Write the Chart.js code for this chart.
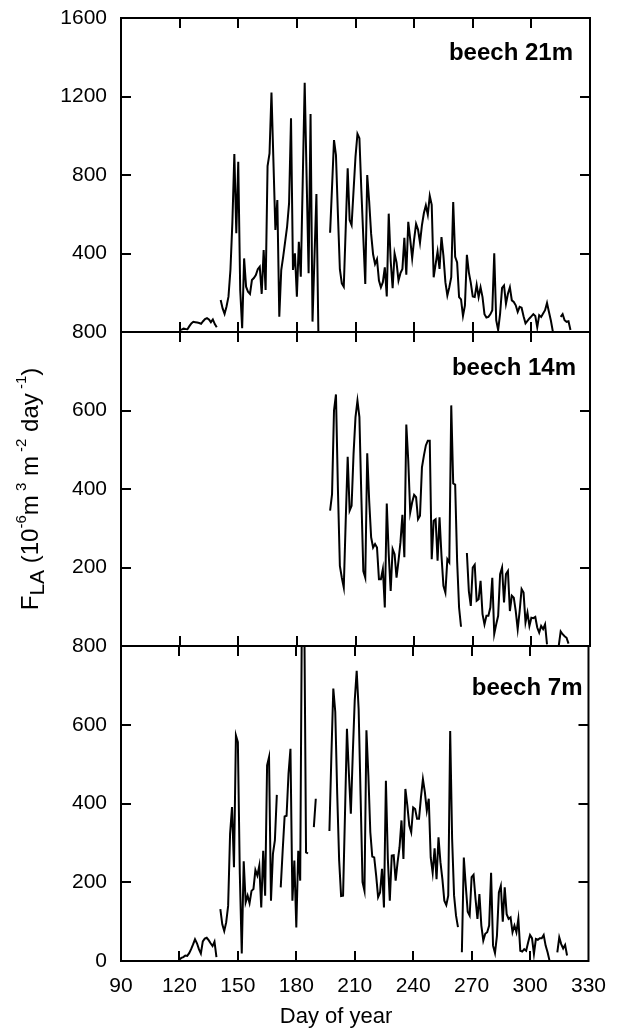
<!DOCTYPE html>
<html>
<head>
<meta charset="utf-8">
<script src="https://cdn.jsdelivr.net/npm/chart.js@4.4.1/dist/chart.umd.min.js"></script>
<style>
  body { margin: 0; background: #fff; }
  #wrap { position: relative; width: 619px; height: 1036px; }
  canvas { position: absolute; left: 0; }
</style>
</head>
<body>
<div id="wrap">
  <canvas id="p1" width="619" height="350" style="top:0px"></canvas>
  <canvas id="p2" width="619" height="350" style="top:314px"></canvas>
  <canvas id="p3" width="619" height="408" style="top:628px"></canvas>
</div>
<script>
// Daily sap flux values, one array per sensor height (null = missing day)
const start21 = 120;
const beech21 = [
  10, 12, 17, 15, 14, 30, 44, 52, 50, 48,
  46, 42, 55, 66, 71, 64, 50, 64, 40, 24,
  null, 163, 120, 92, 130, 180, 316, 560, 907, 503,
  868, 214, 19, 375, 231, 205, 194, 265, 275, 290,
  320, 333, 194, 418, 214, 846, 910, 1220, 870, 520,
  672, 78, 316, 384, 460, 537, 655, 1089, 316, 401,
  180, 460, 282, 770, 1270, 780, 299, 1111, 53, 380,
  703, 0, null, null, null, null, null, 506, 740, 978,
  902, 600, 320, 248, 231, 530, 834, 571, 545, 720,
  893, 1009, 987, 720, 480, 245, 800, 665, 500, 396,
  346, 371, 262, 228, 254, 329, 181, 603, 363, 223,
  400, 354, 262, 300, 321, 480, 292, 561, 472, 376,
  472, 551, 522, 455, 544, 606, 645, 598, 694, 648,
  279, 346, 410, 321, 484, 388, 254, 186, 228, 279,
  662, 383, 354, 178, 166, 82, 136, 393, 304, 250,
  181, 178, 240, 178, 228, 178, 91, 74, 77, 90,
  111, 401, 60, 10, 94, 225, 237, 144, 195, 228,
  161, 153, 136, 102, 128, 124, 80, 44, 57, 69,
  80, 91, 82, 24, 86, 77, 94, 111, 148, 102,
  57, 2, null, null, null, 77, 91, 60, 52, 55,
  10
];

const start14 = 197;
const beech14 = [
  345, 387, 600,
  641, 400, 204, 174, 149, 320, 482, 345, 357, 489,
  583, 625, 583, 379, 191, 174, 491, 370, 277, 251,
  260, 251, 170, 170, 196, 98, 363, 234, 140, 247,
  234, 174, 217, 264, 334, 226, 564, 472, 340, 366,
  385, 379, 323, 332, 455, 485, 511, 523, 523, 221,
  319, 323, 217, 328, 230, 153, 136, 221, 213, 613,
  414, 411, 217, 98, 49, null, null, 237, 140, 102,
  200, 207, 115, 119, 166, 81, 55, 77, 77, 98,
  174, 31, 55, 77, 183, 200, 111, 183, 191, 89,
  128, 123, 89, 43, 89, 145, 136, 60, 85, 51,
  72, 71, 74, 47, 34, 51, 43, 55, 4, null,
  null, null, null, null, 0, 37, 30, 25, 21, 6
];

const start7 = 120;
const beech7 = [
  4, 8, 10, 14, 13, 20, 30, 42, 55, 45,
  30, 19, 50, 57, 59, 53, 45, 38, 49, 10,
  null, 132, 93, 76, 98, 140, 323, 391, 238, 573,
  556, 221, 19, 253, 149, 166, 147, 178, 183, 231,
  217, 242, 136, 280, 166, 497, 518, 153, 272, 306,
  422, null, 187, 280, 367, 369, 476, 539, 153, 255,
  85, 280, 204, 1000, 950, 276, 273, null, null, 340,
  412, null, null, null, null, null, null, 330, 520, 692,
  633, 425, 255, 165, 166, 374, 590, 476, 374, 527,
  662, 737, 640, 420, 200, 178, 586, 471, 327, 265,
  263, 217, 162, 174, 234, 136, 458, 259, 153, 268,
  269, 204, 251, 289, 357, 259, 437, 395, 344, 327,
  390, 386, 361, 361, 416, 462, 429, 382, 412, 263,
  224, 286, 208, 314, 251, 208, 153, 142, 166, 584,
  310, 166, 115, 86, null, 22, 263, 191, 125, 115,
  213, 219, 158, 107, 170, 90, 52, 69, 73, 90,
  224, 39, 20, 64, 174, 191, 100, 187, 119, 107,
  111, 73, 90, 73, 107, 26, 24, 30, 26, 47,
  66, 58, 18, 56, 54, 58, 58, 66, 39, 22,
  1, null, null, null, 22, 60, 43, 32, 41, 14
];

const xTicks = [90, 120, 150, 180, 210, 240, 270, 300, 330];
const yTicks21 = [0, 400, 800, 1200, 1600];
const yTicks14 = [0, 200, 400, 600, 800];
const yTicks7 = [0, 200, 400, 600, 800];

const FONT = "'Liberation Sans', Arial, Helvetica, sans-serif";

function toPoints(start, vals) {
  return vals.map((v, i) => ({ x: start + i, y: v }));
}

// box around each panel, inward ticks on all four sides, panel label
const framePlugin = {
  id: 'frame',
  afterDraw(chart, args, opts) {
    const { ctx, chartArea: a, scales: { x, y } } = chart;
    ctx.save();
    ctx.strokeStyle = '#000';
    ctx.lineWidth = 2;
    ctx.strokeRect(a.left, a.top, a.right - a.left, a.bottom - a.top);
    ctx.beginPath();
    xTicks.slice(1, -1).forEach(t => {
      const px = Math.round(x.getPixelForValue(t));
      ctx.moveTo(px, a.top); ctx.lineTo(px, a.top + 10);
      ctx.moveTo(px, a.bottom); ctx.lineTo(px, a.bottom - 10);
    });
    y.ticks.slice(1, -1).forEach(t => {
      const py = Math.round(y.getPixelForValue(t.value));
      ctx.moveTo(a.left, py); ctx.lineTo(a.left + 10, py);
      ctx.moveTo(a.right, py); ctx.lineTo(a.right - 10, py);
    });
    ctx.stroke();

    ctx.fillStyle = '#000';
    ctx.font = 'bold 24px ' + FONT;
    ctx.textAlign = 'right';
    ctx.textBaseline = 'middle';
    ctx.fillText(opts.label, a.right - opts.dx, a.top + opts.dy);

    if (opts.xTitle) {
      ctx.font = '22px ' + FONT;
      ctx.textAlign = 'center';
      ctx.fillText(opts.xTitle, opts.xTitleX, a.bottom + opts.xTitleDy);
    }
    ctx.restore();
  }
};

// rotated y axis title with sub/superscripts
const yTitlePlugin = {
  id: 'ytitle',
  afterDraw(chart, args, opts) {
    if (!opts.show) return;
    const ctx = chart.ctx;
    const parts = [
      ['F', 0], ['LA', 1], [' (10', 0], ['-6', 2], ['m', 0], [' 3', 2],
      [' m', 0], [' -2', 2], [' day', 0], [' -1', 2], [')', 0]
    ];
    const size = [24, 21, 15];
    const shift = [0, 6, -12];
    ctx.save();
    ctx.fillStyle = '#000';
    ctx.textBaseline = 'alphabetic';
    let total = 0;
    parts.forEach(([t, k]) => {
      ctx.font = size[k] + 'px ' + FONT;
      total += ctx.measureText(t).width;
    });
    ctx.translate(opts.x, opts.y);
    ctx.rotate(-Math.PI / 2);
    let pos = -total / 2;
    parts.forEach(([t, k]) => {
      ctx.font = size[k] + 'px ' + FONT;
      ctx.fillText(t, pos, shift[k]);
      pos += ctx.measureText(t).width;
    });
    ctx.restore();
  }
};

function makePanel(id, start, vals, yMax, yTicks, frameOpts, bottomAxis, yTitle) {
  const canvas = document.getElementById(id);
  const h = canvas.height;
  return new Chart(canvas, {
    type: 'line',
    data: {
      datasets: [{
        data: toPoints(start, vals),
        borderColor: '#000',
        borderWidth: 2,
        pointRadius: 0,
        tension: 0,
        spanGaps: false
      }]
    },
    options: {
      responsive: false,
      animation: false,
      events: [],
      layout: { padding: { top: 18, right: 29, left: 0, bottom: bottomAxis ? 0 : h - 332 } },
      plugins: {
        legend: { display: false },
        tooltip: { enabled: false },
        frame: frameOpts,
        ytitle: yTitle || { show: false }
      },
      scales: {
        x: {
          type: 'linear',
          min: 90,
          max: 330,
          display: bottomAxis,
          grid: { display: false, drawTicks: false },
          border: { display: false },
          afterBuildTicks: s => { s.ticks = xTicks.map(v => ({ value: v })); },
          afterFit: s => { s.height = bottomAxis ? h - 333 : 0; },
          ticks: { color: '#000', font: { family: FONT, size: 21 }, padding: 13, maxRotation: 0 }
        },
        y: {
          min: 0,
          max: yMax,
          grid: { display: false, drawTicks: false },
          border: { display: false },
          afterBuildTicks: s => { s.ticks = yTicks.map(v => ({ value: v })); },
          afterFit: s => { s.width = 121; s.paddingTop = 0; s.paddingBottom = 0; },
          ticks: {
            color: '#000',
            font: { family: FONT, size: 21 },
            padding: 14,
            callback: v => (!bottomAxis && v === 0) ? '' : v
          }
        }
      }
    },
    plugins: [framePlugin, yTitlePlugin]
  });
}

makePanel('p1', start21, beech21, 1600, yTicks21,
  { label: 'beech 21m', dx: 17, dy: 35 }, false);
makePanel('p2', start14, beech14, 800, yTicks14,
  { label: 'beech 14m', dx: 14, dy: 36 }, false,
  { show: true, x: 38, y: 175 });
makePanel('p3', start7, beech7, 800, yTicks7,
  { label: 'beech 7m', dx: 6, dy: 42, xTitle: 'Day of year', xTitleX: 336, xTitleDy: 56 }, true);
</script>
</body>
</html>
